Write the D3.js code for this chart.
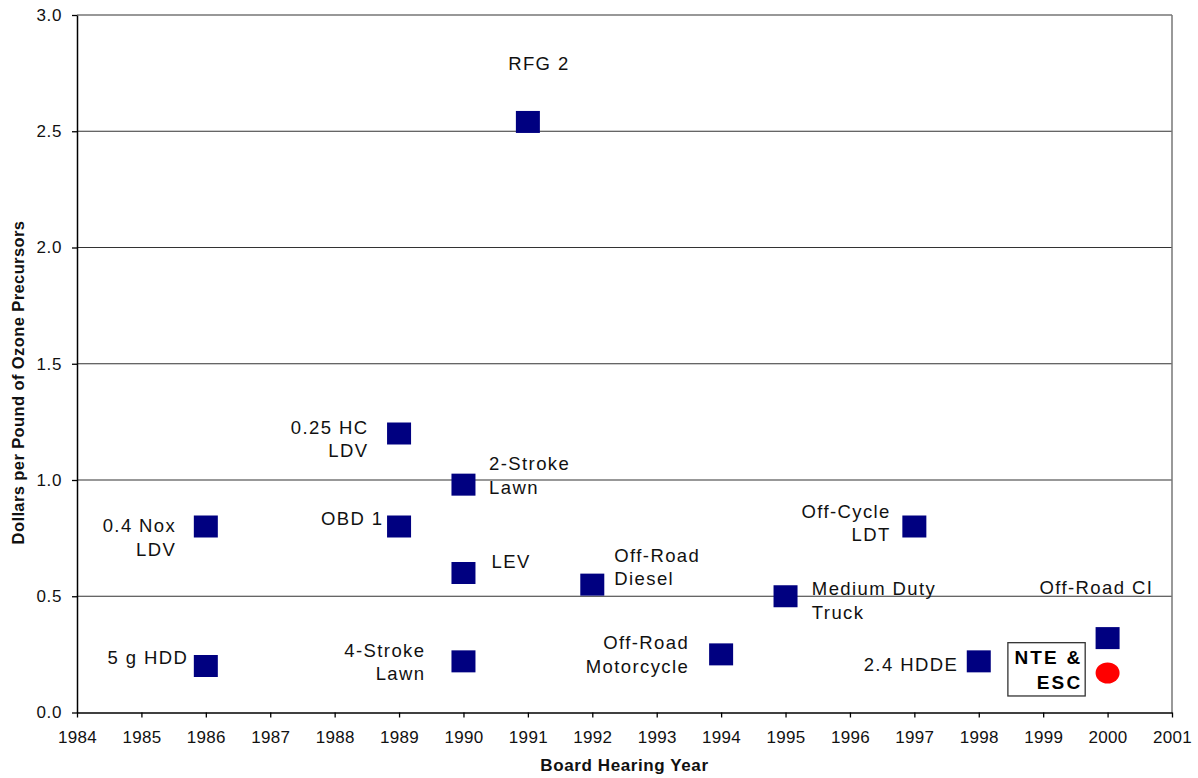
<!DOCTYPE html>
<html>
<head>
<meta charset="utf-8">
<script src="https://cdn.jsdelivr.net/npm/d3@7"></script>
<style>
  html, body { margin: 0; padding: 0; background: #fff; }
  svg { display: block; font-family: Arial, "Liberation Sans", sans-serif; }
</style>
</head>
<body>
<svg id="chart" width="1198" height="778"></svg>
<script>
// Board hearing year and cost-effectiveness of each regulation
const years  = [1986, 1986, 1989, 1989, 1990, 1990, 1990, 1991, 1992, 1994, 1995, 1997, 1998, 2000];
const values = [0.20, 0.80, 1.20, 0.80, 0.98, 0.60, 0.22, 2.54, 0.55, 0.25, 0.50, 0.80, 0.22, 0.32];
const names  = [
  ["5 g HDD"], ["0.4 Nox", "LDV"], ["0.25 HC", "LDV"], ["OBD 1"], ["2-Stroke", "Lawn"],
  ["LEV"], ["4-Stroke", "Lawn"], ["RFG 2"], ["Off-Road", "Diesel"], ["Off-Road", "Motorcycle"],
  ["Medium Duty", "Truck"], ["Off-Cycle", "LDT"], ["2.4 HDDE"], ["Off-Road CI"]
];

// Proposed NTE & ESC regulation
const proposedYear  = [2000];
const proposedValue = [0.17];
const proposedName  = ["NTE &", "ESC"];

const xTicks = d3.range(1984, 2002);
const yTicks = [0, 0.5, 1.0, 1.5, 2.0, 2.5, 3.0];

// Label placement relative to each marker (dx, baseline dy, text anchor)
const labelLayout = [
  { dx: -19, dy: -2,  anchor: "end" },
  { dx: -31, dy: 5.5, anchor: "end" },
  { dx: -32, dy: 0,   anchor: "end" },
  { dx: -17, dy: -1.5, anchor: "end" },
  { dx: 25.6, dy: -14.6, anchor: "start" },
  { dx: 28,  dy: -5,  anchor: "start" },
  { dx: -39.4, dy: -4.7, anchor: "end" },
  { dx: 11,  dy: -52, anchor: "middle" },
  { dx: 22,  dy: -23, anchor: "start" },
  { dx: -33.3, dy: -5, anchor: "end" },
  { dx: 26.3, dy: -1, anchor: "start" },
  { dx: -25, dy: -9,  anchor: "end" },
  { dx: -22, dy: 10,  anchor: "end" },
  { dx: 44.3, dy: -44, anchor: "end" }
];

const svg = d3.select("#chart");
const plotLeft = 77, plotRight = 1172, plotTop = 15, plotBottom = 712.5;

const x = d3.scaleLinear().domain([1984, 2001]).range([plotLeft, plotRight]);
const y = d3.scaleLinear().domain([0, 3]).range([plotBottom, plotTop]);

// Horizontal gridlines
svg.append("g")
  .selectAll("line")
  .data(yTicks.filter(d => d > 0))
  .join("line")
  .attr("x1", plotLeft).attr("x2", plotRight)
  .attr("y1", d => y(d)).attr("y2", d => y(d))
  .attr("stroke", "#333").attr("stroke-width", 1.2);

// Right border of plot area
svg.append("line")
  .attr("x1", plotRight).attr("x2", plotRight)
  .attr("y1", y(3)).attr("y2", plotBottom)
  .attr("stroke", "#777").attr("stroke-width", 1.5);

// X axis
const xAxis = svg.append("g")
  .attr("transform", `translate(0,${plotBottom})`)
  .call(d3.axisBottom(x).tickValues(xTicks).tickFormat(d3.format("d"))
    .tickSize(5).tickSizeOuter(0).tickPadding(13));
xAxis.select(".domain").attr("stroke", "#000").attr("stroke-width", 1.5);
xAxis.selectAll(".tick line").attr("stroke", "#000").attr("stroke-width", 1.3);
xAxis.selectAll(".tick text")
  .attr("font-size", 17).attr("fill", "#111")
  .style("letter-spacing", "0.3px");

// Y axis
const yAxis = svg.append("g")
  .attr("transform", `translate(${plotLeft},0)`)
  .call(d3.axisLeft(y).tickValues(yTicks).tickFormat(d3.format(".1f"))
    .tickSize(5).tickSizeOuter(0).tickPadding(10));
yAxis.select(".domain").attr("stroke", "#000").attr("stroke-width", 1.5);
yAxis.selectAll(".tick line").attr("stroke", "#000").attr("stroke-width", 1.3);
yAxis.selectAll(".tick text")
  .attr("font-size", 17).attr("fill", "#111")
  .style("letter-spacing", "0.6px");

// Axis titles
svg.append("text")
  .attr("x", (plotLeft + plotRight) / 2).attr("y", 770.5)
  .attr("text-anchor", "middle")
  .attr("font-size", 17).attr("font-weight", "bold").attr("fill", "#111")
  .style("letter-spacing", "0.6px")
  .text("Board Hearing Year");

svg.append("text")
  .attr("transform", "translate(24,382.5) rotate(-90)")
  .attr("text-anchor", "middle")
  .attr("font-size", 16.5).attr("font-weight", "bold").attr("fill", "#111")
  .style("letter-spacing", "0.4px")
  .text("Dollars per Pound of Ozone Precursors");

// Adopted regulations: navy square markers
const markW = 24, markH = 22;
svg.append("g")
  .selectAll("rect")
  .data(years.map((yr, i) => ({ yr, v: values[i] })))
  .join("rect")
  .attr("x", d => x(d.yr) - markW / 2)
  .attr("y", d => y(d.v) - markH / 2)
  .attr("width", markW).attr("height", markH)
  .attr("fill", "#000080");

// Regulation labels
const lineH = 23.5;
const labels = svg.append("g")
  .selectAll("text")
  .data(years.map((yr, i) => ({ yr, v: values[i], lines: names[i], lay: labelLayout[i] })))
  .join("text")
  .attr("text-anchor", d => d.lay.anchor)
  .attr("font-size", 18.5).attr("fill", "#111")
  .style("letter-spacing", "1.4px");
labels.each(function (d) {
  const t = d3.select(this);
  d.lines.forEach((ln, k) => {
    t.append("tspan")
      .attr("x", x(d.yr) + d.lay.dx + (d.lay.anchor === "end" ? 1.4 : 0))
      .attr("y", y(d.v) + d.lay.dy + k * lineH)
      .text(ln);
  });
});

// Proposed regulation: red point with boxed label
const px = x(proposedYear[0]), py = y(proposedValue[0]);
svg.append("ellipse")
  .attr("cx", px).attr("cy", py)
  .attr("rx", 12).attr("ry", 10.5)
  .attr("fill", "#ff0000");

svg.append("rect")
  .attr("x", px - 99.7).attr("y", py - 30.3)
  .attr("width", 77.3).attr("height", 53.3)
  .attr("fill", "#fff").attr("stroke", "#333").attr("stroke-width", 1.3);

const boxText = svg.append("text")
  .attr("text-anchor", "end")
  .attr("font-size", 19).attr("font-weight", "bold").attr("fill", "#000")
  .style("letter-spacing", "2.2px");
proposedName.forEach((ln, k) => {
  boxText.append("tspan")
    .attr("x", px - 27.4 + 2.2)
    .attr("y", py - 9 + k * 25)
    .text(ln);
});
</script>
</body>
</html>
